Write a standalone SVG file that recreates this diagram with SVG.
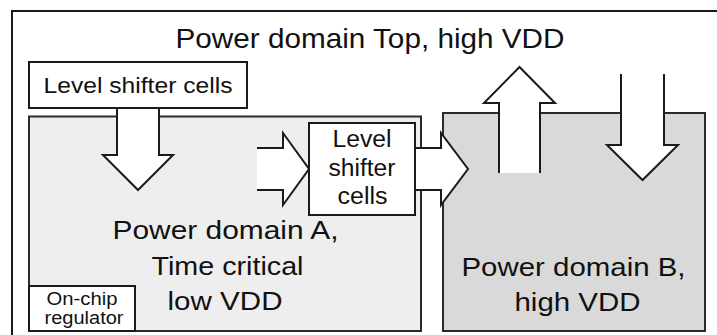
<svg xmlns="http://www.w3.org/2000/svg" width="717" height="335" viewBox="0 0 717 335">
  <style>
    text { font-family: "Liberation Sans", Arial, sans-serif; fill: #111; text-anchor: middle; }
    .box { fill: #fff; stroke: #1a1a1a; stroke-width: 2; }
    .dom { stroke: #2a2a2a; stroke-width: 2; }
    .arrow { fill: #fff; stroke: #1a1a1a; stroke-width: 2; stroke-linejoin: miter; }
  </style>
  <rect width="717" height="335" fill="#fff"/>
  <g id="top-domain">
    <rect x="12" y="11" width="720" height="340" fill="#fff" stroke="#1a1a1a" stroke-width="2"/>
    <text x="370" y="47.5" font-size="27.5" textLength="389" lengthAdjust="spacingAndGlyphs">Power domain Top, high VDD</text>
  </g>
  <g id="domain-a">
    <rect class="dom" x="29" y="116.5" width="392" height="214.5" fill="#eeeeee"/>
    <text x="225.5" y="239" font-size="25.5" textLength="226" lengthAdjust="spacingAndGlyphs">Power domain A,</text>
    <text x="227.5" y="275" font-size="25.5" textLength="152" lengthAdjust="spacingAndGlyphs">Time critical</text>
    <text x="225" y="310" font-size="25.5" textLength="115" lengthAdjust="spacingAndGlyphs">low VDD</text>
  </g>
  <g id="domain-b">
    <rect class="dom" x="443" y="113" width="262" height="218" fill="#d9d9d9"/>
    <text x="573.5" y="276" font-size="25.5" textLength="224" lengthAdjust="spacingAndGlyphs">Power domain B,</text>
    <text x="577.5" y="311" font-size="25.5" textLength="126" lengthAdjust="spacingAndGlyphs">high VDD</text>
  </g>
  <g id="regulator">
    <rect class="box" x="29" y="286" width="106" height="45"/>
    <text x="82" y="305" font-size="17.5" textLength="71" lengthAdjust="spacingAndGlyphs">On-chip</text>
    <text x="84" y="324" font-size="17.5" textLength="79" lengthAdjust="spacingAndGlyphs">regulator</text>
  </g>
  <g id="connectors">
    <path class="arrow" d="M117,108 V155 H103 L138,190 L173,155 H159 V108"/>
    <path class="arrow" d="M257,148 H283 V133 L309,169 L283,205 V190 H257"/>
    <path class="arrow" d="M415,148 H441 V133 L468,169 L441,205 V190 H415"/>
    <path class="arrow" d="M499,173 V103 H484 L519.5,67 L555,103 H540 V173"/>
    <path class="arrow" d="M621,74 V145 H607 L642.5,180 L678,145 H664 V74"/>
  </g>
  <g id="level-shifter-top">
    <rect class="box" x="29" y="62" width="218" height="46"/>
    <text x="138" y="92.5" font-size="22.5" textLength="189" lengthAdjust="spacingAndGlyphs">Level shifter cells</text>
  </g>
  <g id="level-shifter-mid">
    <rect class="box" x="309" y="123" width="106" height="92"/>
    <text x="362" y="147" font-size="23" textLength="59" lengthAdjust="spacingAndGlyphs">Level</text>
    <text x="362" y="176" font-size="23" textLength="67" lengthAdjust="spacingAndGlyphs">shifter</text>
    <text x="362.5" y="204" font-size="23" textLength="50" lengthAdjust="spacingAndGlyphs">cells</text>
  </g>
</svg>
